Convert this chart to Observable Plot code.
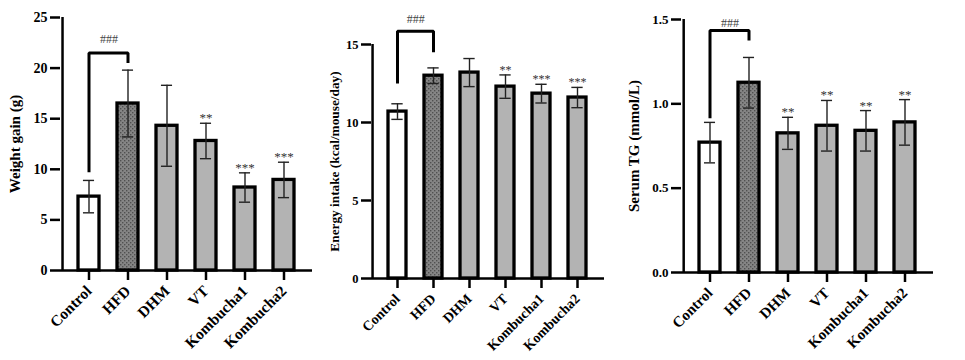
<!DOCTYPE html>
<html>
<head>
<meta charset="utf-8">
<script src="https://cdn.jsdelivr.net/npm/d3@7"></script>
<script src="https://cdn.jsdelivr.net/npm/@observablehq/plot@0.6"></script>
<style>
  html, body { margin: 0; padding: 0; background: #fff; }
  #chart { position: relative; width: 965px; height: 360px; overflow: hidden; }
  #chart svg { position: absolute; top: 0; overflow: visible; }
</style>
</head>
<body>
<div id="chart"></div>
<script>
// ---- data ----
const groups = ["Control", "HFD", "DHM", "VT", "Kombucha1", "Kombucha2"];
const groupFills = ["white", "PATTERN", "#b3b3b3", "#b3b3b3", "#b3b3b3", "#b3b3b3"];

const weightMean = [7.3, 16.5, 14.3, 12.8, 8.2, 8.95];
const weightSD   = [1.6, 3.3, 4.0, 1.75, 1.45, 1.75];
const weightSig  = ["", "", "", "**", "***", "***"];
const weightBracket = [9.7, 21.5, 20.5];   // start (Control), top, end (HFD)
const weightBracketLabel = "###";
const weightTicks = [0, 5, 10, 15, 20, 25];

const energyMean = [10.7, 13.0, 13.2, 12.3, 11.85, 11.6];
const energySD   = [0.5, 0.5, 0.9, 0.75, 0.6, 0.65];
const energySig  = ["", "", "", "**", "***", "***"];
const energyBracket = [12.5, 15.85, 14.5];
const energyBracketLabel = "###";
const energyTicks = [0, 5, 10, 15];

const tgMean = [0.77, 1.125, 0.825, 0.87, 0.84, 0.89];
const tgSD   = [0.12, 0.15, 0.095, 0.15, 0.12, 0.135];
const tgSig  = ["", "", "**", "**", "**", "**"];
const tgBracket = [0.915, 1.435, 1.375];
const tgBracketLabel = "###";
const tgTicks = [0, 0.5, 1.0, 1.5];

const FONT = "'Liberation Serif', 'Times New Roman', serif";

function addPattern(svg, id) {
  const ns = "http://www.w3.org/2000/svg";
  const defs = document.createElementNS(ns, "defs");
  const pat = document.createElementNS(ns, "pattern");
  pat.setAttribute("id", id);
  pat.setAttribute("patternUnits", "userSpaceOnUse");
  pat.setAttribute("width", "4");
  pat.setAttribute("height", "4");
  const bg = document.createElementNS(ns, "rect");
  bg.setAttribute("width", "4"); bg.setAttribute("height", "4"); bg.setAttribute("fill", "#858585");
  pat.appendChild(bg);
  for (const [px, py] of [[0, 0], [2, 2]]) {
    const r = document.createElementNS(ns, "rect");
    r.setAttribute("x", px); r.setAttribute("y", py);
    r.setAttribute("width", "1.4"); r.setAttribute("height", "1.4");
    r.setAttribute("fill", "#505050");
    pat.appendChild(r);
  }
  defs.appendChild(pat);
  svg.insertBefore(defs, svg.firstChild);
}

function panel(cfg) {
  const patId = "dots-" + cfg.id;
  const rows = groups.map((g, i) => ({
    g,
    mean: cfg.mean[i],
    lo: cfg.mean[i] - cfg.sd[i],
    hi: cfg.mean[i] + cfg.sd[i],
    sig: cfg.sig[i],
    fill: groupFills[i] === "PATTERN" ? `url(#${patId})` : groupFills[i]
  }));
  const n = groups.length;
  const step = (cfg.width - cfg.ml - cfg.mr) / (n - cfg.p + 2 * cfg.po);
  const bw = step * (1 - cfg.p);
  const axisDx = -(step * cfg.po + bw / 2);
  const capInset = (bw - 12) / 2;
  const b = cfg.bracket;
  const bracketPts = [
    {x: groups[0], y: b[0]}, {x: groups[0], y: b[1]},
    {x: groups[1], y: b[1]}, {x: groups[1], y: b[2]}
  ];

  const svg = Plot.plot({
    width: cfg.width,
    height: 360,
    marginLeft: cfg.ml, marginRight: cfg.mr, marginTop: cfg.mt, marginBottom: cfg.mb,
    style: {fontFamily: FONT, color: "black", background: "transparent", overflow: "visible"},
    x: {type: "band", domain: groups, paddingInner: cfg.p, paddingOuter: cfg.po, label: null},
    y: {domain: cfg.domain, label: null},
    color: {type: "identity"},
    marks: [
      Plot.barY(rows, {x: "g", y: "mean", fill: "fill", stroke: "black", strokeWidth: 3.3}),
      Plot.ruleX(rows, {x: "g", y1: "lo", y2: "hi", stroke: "#222", strokeWidth: 1.4}),
      Plot.tickY(rows, {x: "g", y: "hi", stroke: "#222", strokeWidth: 1.4, insetLeft: capInset, insetRight: capInset}),
      Plot.tickY(rows, {x: "g", y: "lo", stroke: "#222", strokeWidth: 1.4, insetLeft: capInset, insetRight: capInset}),
      Plot.text(rows.filter(d => d.sig), {x: "g", y: "hi", text: "sig", lineAnchor: "bottom", dy: -1,
        fill: "#333", fontSize: cfg.starSize, fontFamily: FONT}),
      Plot.line(bracketPts, {x: "x", y: "y", stroke: "black", strokeWidth: 3, strokeLinejoin: "miter", strokeLinecap: "butt"}),
      Plot.text([cfg.bracketLabel], {x: () => groups[0], y: () => cfg.labelY, text: d => d, dx: step / 2,
        fill: "#444", fontSize: 12, fontFamily: FONT}),
      Plot.ruleY([0], {stroke: "black", strokeWidth: 2.5}),
      Plot.ruleX([groups[0]], {y1: () => cfg.domain[0], y2: () => cfg.domain[1], dx: axisDx, stroke: "black", strokeWidth: 2.5}),
      Plot.axisY({ticks: cfg.ticks, tickFormat: cfg.fmt, tickSize: 10, tickPadding: 3, strokeWidth: 2.5,
        fontSize: cfg.yTickSize, fontWeight: "bold", fontFamily: FONT, fill: "black", stroke: "black", label: null}),
      Plot.axisX({tickSize: 10, tickPadding: 8, tickRotate: -45, strokeWidth: 2.5,
        fontSize: cfg.xTickSize, fontWeight: "bold", fontFamily: FONT, fill: "black", stroke: "black", label: null}),
      Plot.text([cfg.label], {frameAnchor: "left", rotate: -90, dx: cfg.labelDx, text: d => d,
        textAnchor: "middle", lineAnchor: "middle",
        fontSize: cfg.labelSize, fontWeight: "bold", fontFamily: FONT, fill: "black"})
    ]
  });
  addPattern(svg, patId);
  svg.style.left = cfg.left + "px";
  return svg;
}

const chart = document.getElementById("chart");

chart.appendChild(panel({
  id: "w", left: 0, width: 320, ml: 60, mr: 8, mt: 17, mb: 90, p: 0.45, po: 0.39,
  domain: [0, 25], ticks: weightTicks, fmt: d3.format("d"),
  mean: weightMean, sd: weightSD, sig: weightSig,
  bracket: weightBracket, bracketLabel: weightBracketLabel, labelY: 22.9,
  label: "Weight gain (g)", labelDx: -45, labelSize: 15,
  xTickSize: 15.5, yTickSize: 14, starSize: 13
}));

chart.appendChild(panel({
  id: "e", left: 320, width: 320, ml: 51, mr: 36, mt: 44, mb: 82, p: 0.49, po: 0.426,
  domain: [0, 15], ticks: energyTicks, fmt: d3.format("d"),
  mean: energyMean, sd: energySD, sig: energySig,
  bracket: energyBracket, bracketLabel: energyBracketLabel, labelY: 16.6,
  label: "Energy intake (kcal/mouse/day)", labelDx: -37, labelSize: 13.3,
  xTickSize: 14, yTickSize: 12.5, starSize: 12
}));

chart.appendChild(panel({
  id: "t", left: 640, width: 325, ml: 41, mr: 32, mt: 19, mb: 88, p: 0.45, po: 0.385,
  domain: [0, 1.5], ticks: tgTicks, fmt: d3.format(".1f"),
  mean: tgMean, sd: tgSD, sig: tgSig,
  bracket: tgBracket, bracketLabel: tgBracketLabel, labelY: 1.478,
  label: "Serum TG (mmol/L)", labelDx: -47, labelSize: 15,
  xTickSize: 15, yTickSize: 13, starSize: 13
}));
</script>
</body>
</html>
